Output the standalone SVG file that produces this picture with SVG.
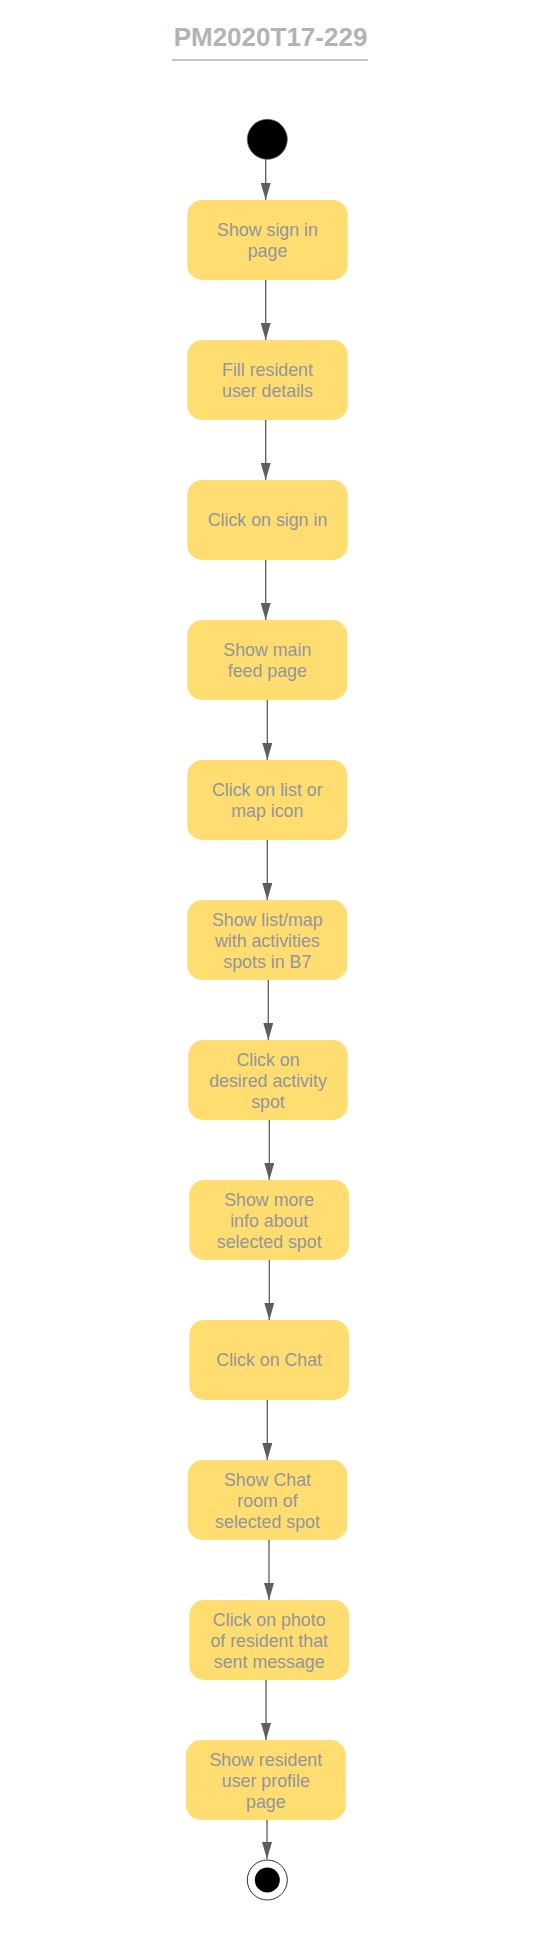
<svg xmlns="http://www.w3.org/2000/svg" width="536" height="1934" viewBox="0 0 536 1934">
<style>
.box{fill:#ffdd71;stroke:none}
.lbl{font-family:"Liberation Sans",Arial,sans-serif;font-size:17.8px;fill:#92969c;text-anchor:middle}
.edge{stroke:#5e5e5e;stroke-width:1.3;fill:none;marker-end:url(#ah)}
.title{font-family:"Liberation Sans",Arial,sans-serif;font-size:26px;font-weight:bold;fill:#b3b3b3;text-anchor:middle}
</style>
<defs>
<marker id="ah" markerUnits="userSpaceOnUse" markerWidth="17" markerHeight="10" viewBox="0 0 17 10" refX="17" refY="5" orient="auto">
<path d="M0,0 L17,5 L0,10 z" fill="#5e5e5e"/>
</marker>
</defs>
<rect width="536" height="1934" fill="#ffffff"/>
<g id="title">
<text class="title" x="270.5" y="45.5">PM2020T17-229</text>
<line x1="172" y1="60" x2="368" y2="60" stroke="#b3b3b3" stroke-width="1.5"/>
</g>
<g id="connectors">
<line class="edge" x1="265.7" y1="159" x2="265.7" y2="200"/>
<line class="edge" x1="265.7" y1="280" x2="265.7" y2="340"/>
<line class="edge" x1="265.7" y1="420" x2="265.7" y2="480"/>
<line class="edge" x1="265.7" y1="560" x2="265.7" y2="620"/>
<line class="edge" x1="267.3" y1="700" x2="267.3" y2="760"/>
<line class="edge" x1="267.3" y1="840" x2="267.3" y2="900"/>
<line class="edge" x1="268.3" y1="980" x2="268.3" y2="1040"/>
<line class="edge" x1="269.3" y1="1120" x2="269.3" y2="1180"/>
<line class="edge" x1="269.3" y1="1260" x2="269.3" y2="1320"/>
<line class="edge" x1="267.3" y1="1400" x2="267.3" y2="1460"/>
<line class="edge" x1="269" y1="1540" x2="269" y2="1600"/>
<line class="edge" x1="266" y1="1680" x2="266" y2="1740"/>
<line class="edge" x1="267" y1="1820" x2="267" y2="1859"/>
</g>
<g id="start">
<circle cx="267.3" cy="139.3" r="20" fill="#000000" stroke="#5e5e5e" stroke-width="0.8"/>
</g>
<g id="n1"><rect class="box" x="187.3" y="200" width="160.4" height="80" rx="15"/>
<text class="lbl"><tspan x="267.5" y="235.5">Show sign in</tspan><tspan x="267.5" y="256.5">page</tspan></text></g>
<g id="n2"><rect class="box" x="187.3" y="340" width="160.4" height="80" rx="15"/>
<text class="lbl"><tspan x="267.5" y="375.5">Fill resident</tspan><tspan x="267.5" y="396.5">user details</tspan></text></g>
<g id="n3"><rect class="box" x="187.3" y="480" width="160.4" height="80" rx="15"/>
<text class="lbl"><tspan x="267.5" y="526">Click on sign in</tspan></text></g>
<g id="n4"><rect class="box" x="187.3" y="620" width="160" height="80" rx="15"/>
<text class="lbl"><tspan x="267.3" y="655.5">Show main</tspan><tspan x="267.3" y="676.5">feed page</tspan></text></g>
<g id="n5"><rect class="box" x="187.3" y="760" width="160" height="80" rx="15"/>
<text class="lbl"><tspan x="267.3" y="795.5">Click on list or</tspan><tspan x="267.3" y="816.5">map icon</tspan></text></g>
<g id="n6"><rect class="box" x="187.3" y="900" width="160" height="80" rx="15"/>
<text class="lbl"><tspan x="267.3" y="926">Show list/map</tspan><tspan x="267.3" y="947">with activities</tspan><tspan x="267.3" y="968">spots in B7</tspan></text></g>
<g id="n7"><rect class="box" x="188.3" y="1040" width="159.4" height="80" rx="15"/>
<text class="lbl"><tspan x="268" y="1066">Click on</tspan><tspan x="268" y="1087">desired activity</tspan><tspan x="268" y="1108">spot</tspan></text></g>
<g id="n8"><rect class="box" x="189.3" y="1180" width="159.7" height="80" rx="15"/>
<text class="lbl"><tspan x="269.2" y="1206">Show more</tspan><tspan x="269.2" y="1227">info about</tspan><tspan x="269.2" y="1248">selected spot</tspan></text></g>
<g id="n9"><rect class="box" x="189.3" y="1320" width="159.7" height="80" rx="15"/>
<text class="lbl"><tspan x="269.2" y="1366">Click on Chat</tspan></text></g>
<g id="n10"><rect class="box" x="187.7" y="1460" width="159.6" height="80" rx="15"/>
<text class="lbl"><tspan x="267.5" y="1486">Show Chat</tspan><tspan x="267.5" y="1507">room of</tspan><tspan x="267.5" y="1528">selected spot</tspan></text></g>
<g id="n11"><rect class="box" x="189.3" y="1600" width="159.7" height="80" rx="15"/>
<text class="lbl"><tspan x="269.2" y="1626">Click on photo</tspan><tspan x="269.2" y="1647">of resident that</tspan><tspan x="269.2" y="1668">sent message</tspan></text></g>
<g id="n12"><rect class="box" x="186" y="1740" width="159.7" height="80" rx="15"/>
<text class="lbl"><tspan x="265.8" y="1766">Show resident</tspan><tspan x="265.8" y="1787">user profile</tspan><tspan x="265.8" y="1808">page</tspan></text></g>
<g id="end">
<circle cx="267.3" cy="1880" r="20" fill="#ffffff" stroke="#333333" stroke-width="1"/>
<circle cx="267.3" cy="1880" r="12.5" fill="#000000"/>
</g>
</svg>
